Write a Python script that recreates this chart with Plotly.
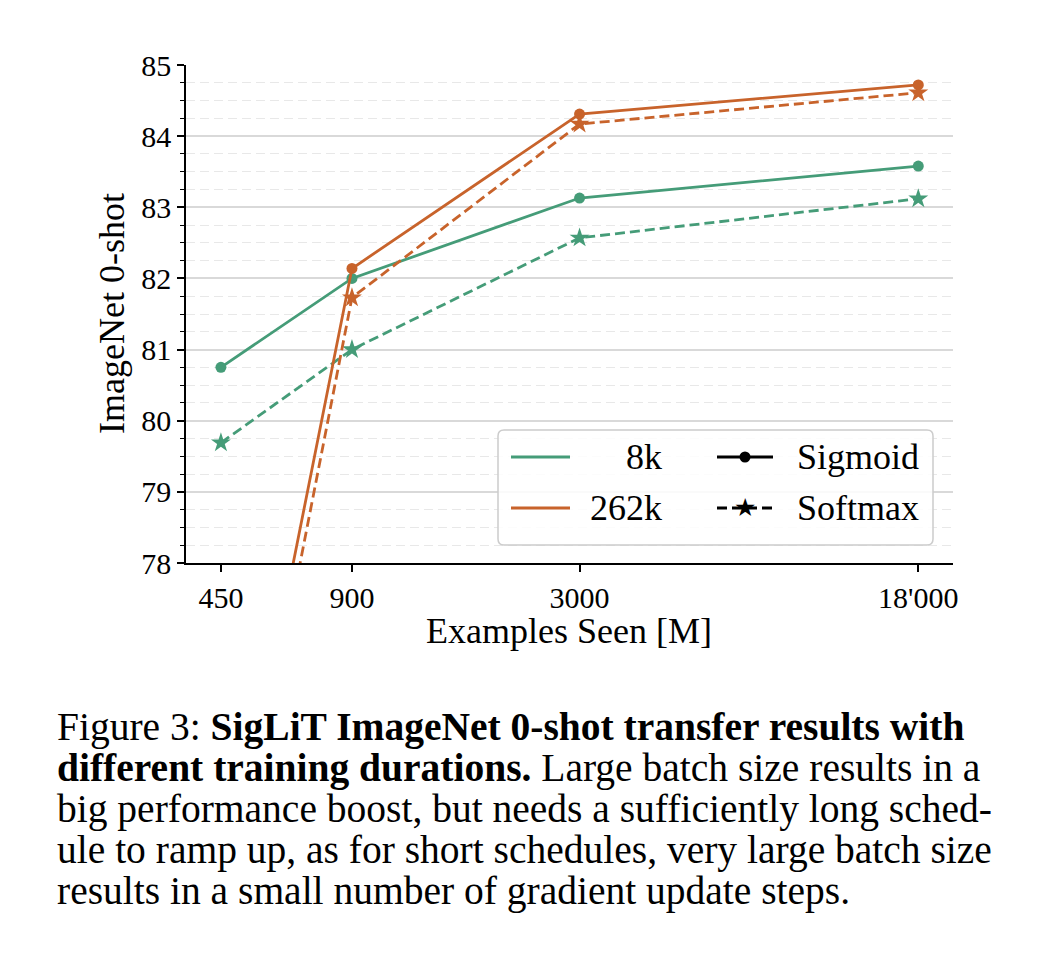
import plotly.graph_objects as go

# ---- data ----
examples_seen = [450, 900, 3000, 18000]
x_tick_labels = ["450", "900", "3000", "18'000"]
sig_8k = [80.75, 82.0, 83.13, 83.58]
soft_8k = [79.69, 81.0, 82.57, 83.12]
sig_262k = [72.9, 82.14, 84.31, 84.72]
soft_262k = [72.3, 81.73, 84.17, 84.61]

GREEN = "#459c78"
ORANGE = "#c8632b"
FONT = "Liberation Serif"

W, H = 1042, 968
L, R, T, B = 186, 953, 65, 563   # plot area in pixels


def px(X):
    return (X - L) / (R - L)


def py(Y):
    return (B - Y) / (B - T)


fig = go.Figure()


def add(y, color, dash, symbol, size):
    fig.add_trace(go.Scatter(
        x=examples_seen, y=y, mode="lines+markers",
        line=dict(color=color, width=2.8, dash=dash),
        marker=dict(color=color, symbol=symbol, size=size, line=dict(width=0)),
        showlegend=False, cliponaxis=True))


add(sig_8k, GREEN, "solid", "circle", 11)
add(soft_8k, GREEN, "10px,5px", "star", 15)
add(sig_262k, ORANGE, "solid", "circle", 11)
add(soft_262k, ORANGE, "10px,5px", "star", 15)

fig.update_xaxes(
    type="log", range=[2.573, 4.335],
    tickvals=examples_seen, ticktext=x_tick_labels,
    showgrid=False, zeroline=False,
    showline=True, linecolor="black", linewidth=1.5,
    ticks="outside", ticklen=7, tickwidth=1.5, tickcolor="black",
    tickfont=dict(family=FONT, size=30, color="black"),
)
fig.update_yaxes(
    range=[78, 85], dtick=1, tick0=78,
    showgrid=True, gridcolor="#d9d9d9", gridwidth=1.5, zeroline=False,
    showline=True, linecolor="black", linewidth=1.5,
    ticks="outside", ticklen=7, tickwidth=1.5, tickcolor="black",
    tickfont=dict(family=FONT, size=30, color="black"),
    minor=dict(dtick=0.25, tick0=78, ticks="outside", ticklen=4, tickwidth=1.2,
               tickcolor="black", showgrid=True, gridcolor="#e8e8e8",
               gridwidth=1.4, griddash="9px,5px"),
)

shapes = []
annotations = []

# legend box (rounded)
bx0, bx1, by0, by1, rr = 498, 933, 430, 545, 6
path = (f"M {px(bx0+rr)},{py(by0)} L {px(bx1-rr)},{py(by0)} "
        f"Q {px(bx1)},{py(by0)} {px(bx1)},{py(by0+rr)} "
        f"L {px(bx1)},{py(by1-rr)} Q {px(bx1)},{py(by1)} {px(bx1-rr)},{py(by1)} "
        f"L {px(bx0+rr)},{py(by1)} Q {px(bx0)},{py(by1)} {px(bx0)},{py(by1-rr)} "
        f"L {px(bx0)},{py(by0+rr)} Q {px(bx0)},{py(by0)} {px(bx0+rr)},{py(by0)} Z")
shapes.append(dict(type="path", xref="paper", yref="paper", path=path,
                   line=dict(color="#cccccc", width=1.5),
                   fillcolor="rgba(255,255,255,0.85)", layer="above"))

rows = [457, 508]
for (yy, col, lab) in [(rows[0], GREEN, "8k"), (rows[1], ORANGE, "262k")]:
    shapes.append(dict(type="line", xref="paper", yref="paper",
                       x0=px(511), x1=px(570), y0=py(yy), y1=py(yy),
                       line=dict(color=col, width=2.8), layer="above"))
    annotations.append(dict(xref="paper", yref="paper", x=px(664), y=py(yy),
                            text=lab, showarrow=False, xanchor="right", yanchor="middle",
                            font=dict(family=FONT, size=36, color="black")))

# Sigmoid entry
shapes.append(dict(type="line", xref="paper", yref="paper",
                   x0=px(717), x1=px(773), y0=py(rows[0]), y1=py(rows[0]),
                   line=dict(color="black", width=2.8), layer="above"))
shapes.append(dict(type="circle", xref="paper", yref="paper",
                   xsizemode="pixel", ysizemode="pixel",
                   xanchor=px(745), yanchor=py(rows[0]),
                   x0=-5.5, x1=5.5, y0=-5.5, y1=5.5,
                   fillcolor="black", line=dict(width=0), layer="above"))
# Softmax entry
shapes.append(dict(type="line", xref="paper", yref="paper",
                   x0=px(717), x1=px(773), y0=py(rows[1]), y1=py(rows[1]),
                   line=dict(color="black", width=2.8, dash="10px,5px"), layer="above"))
annotations.append(dict(xref="paper", yref="paper", x=px(745), y=py(rows[1]) + 0.002,
                        text="★", showarrow=False, xanchor="center", yanchor="middle",
                        bgcolor="rgba(0,0,0,0)", borderpad=0,
                        font=dict(family="DejaVu Sans", size=25, color="black")))
for (yy, lab) in [(rows[0], "Sigmoid"), (rows[1], "Softmax")]:
    annotations.append(dict(xref="paper", yref="paper", x=px(795), y=py(yy),
                            text=lab, showarrow=False, xanchor="left", yanchor="middle",
                            font=dict(family=FONT, size=36, color="black")))

# axis titles
annotations.append(dict(xref="paper", yref="paper", x=px(569), y=py(631),
                        text="Examples Seen [M]", showarrow=False,
                        xanchor="center", yanchor="middle",
                        font=dict(family=FONT, size=36, color="black")))
annotations.append(dict(xref="paper", yref="paper", x=px(112), y=py(314),
                        text="ImageNet 0-shot", showarrow=False, textangle=-90,
                        xanchor="center", yanchor="middle",
                        font=dict(family=FONT, size=36, color="black")))

# caption
caption_lines = [
    "Figure 3: <b>SigLiT ImageNet 0-shot transfer results with</b>",
    "<b>different training durations.</b> Large batch size results in a",
    "big performance boost, but needs a sufficiently long sched-",
    "ule to ramp up, as for short schedules, very large batch size",
    "results in a small number of gradient update steps.",
]
for i, line in enumerate(caption_lines):
    annotations.append(dict(xref="paper", yref="paper", x=px(55), y=py(727 + 41 * i),
                            text=line, showarrow=False, xanchor="left", yanchor="middle",
                            font=dict(family=FONT, size=39.5, color="black")))

fig.update_layout(
    width=W, height=H,
    margin=dict(l=L, r=W - R, t=T, b=H - B, pad=0),
    paper_bgcolor="white", plot_bgcolor="white",
    shapes=shapes, annotations=annotations,
    showlegend=False,
)

fig.write_html("out.html")
